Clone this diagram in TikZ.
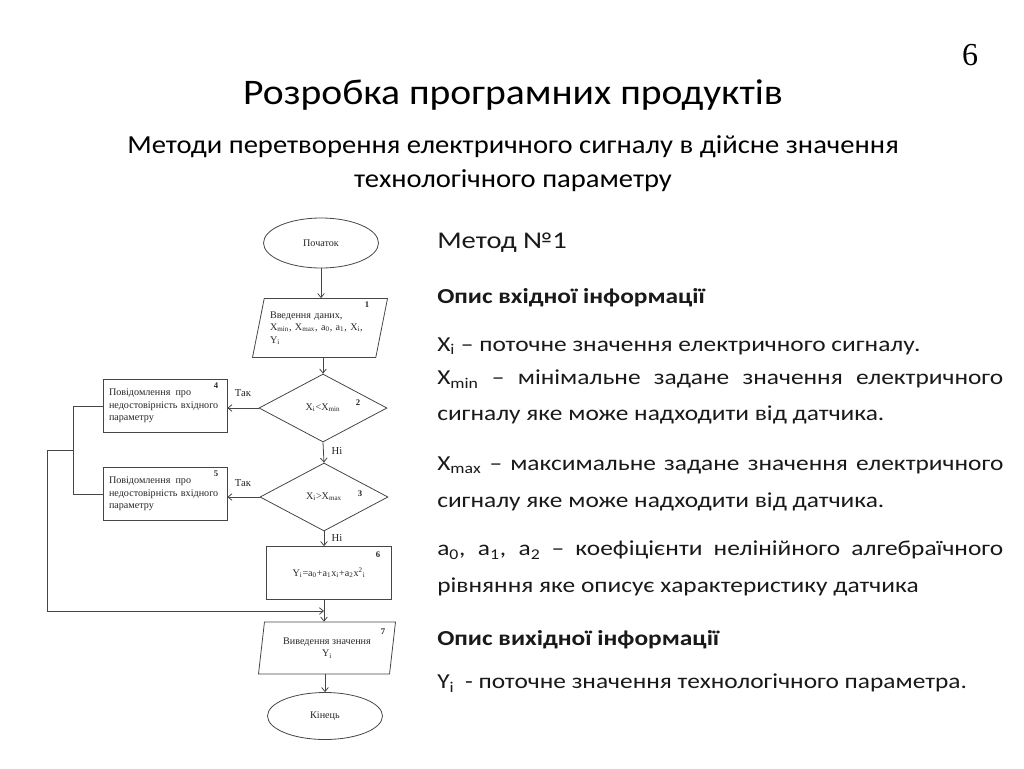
\documentclass[tikz,border=0pt]{standalone}
\usepackage{fontspec}
\setmainfont[FakeStretch=1.19]{Carlito}
\newfontfamily\titlefont[FakeStretch=1.1]{Carlito}
\newfontfamily\flowfont{Liberation Serif}
\usetikzlibrary{shapes.geometric,arrows.meta}
\definecolor{flowgray}{RGB}{70,70,70}
\def\pxu{0.75pt}

\tikzset{
  blk/.style={draw=flowgray, line width=0.6pt, inner sep=2pt, text=black!85,
    font=\flowfont\fontsize{7.6}{9.4}\selectfont},
  term/.style={blk, ellipse, minimum width=115*\pxu, minimum height=50*\pxu},
  io/.style={blk, trapezium, trapezium stretches body, inner xsep=0pt},
  dec/.style={blk, diamond, inner sep=0pt},
  proc/.style={blk, rectangle},
  num/.style={font=\flowfont\bfseries\fontsize{6.5}{7}\selectfont, text=black!85, inner sep=0pt},
  lbl/.style={font=\flowfont\fontsize{8}{9}\selectfont, text=black!85, inner sep=0pt},
  line/.style={draw=flowgray, line width=0.6pt},
  arr/.style={line, -{Straight Barb[length=3pt,width=5pt]}},
  body/.style={anchor=west, inner sep=0pt, text=black!90, font=\fontsize{16}{19}\selectfont},
  bhead/.style={body, font=\bfseries\fontsize{16}{19}\selectfont}
}

\begin{document}
\begin{tikzpicture}[x=0.75pt,y=-0.75pt]
\useasboundingbox (0,0) rectangle (1024,768);

% titles
\node[font=\flowfont\fontsize{24}{26}\selectfont, inner sep=0pt] (pg) at (970,55) {6};
\node[font=\titlefont\fontsize{27}{30}\selectfont, inner sep=0pt] (title) at (513,95) {Розробка програмних продуктів};
\node[font=\titlefont\fontsize{19.5}{25.5}\selectfont, align=center, inner sep=0pt] (subtitle) at (513,164)
  {Методи перетворення електричного сигналу в дійсне значення\\технологічного параметру};

% flowchart blocks
\node[term] (start) at (321,243) {Початок};
\node[io, trapezium left angle=73, trapezium right angle=107, minimum width=135*\pxu,
  minimum height=59*\pxu, text width=100*\pxu, align=left] (inp) at (320,328)
  {Введення даних,\\X\textsubscript{min}, X\textsubscript{max}, a\textsubscript{0}, a\textsubscript{1}, X\textsubscript{i},\\Y\textsubscript{i}};
\node[dec, minimum width=128*\pxu, minimum height=68*\pxu] (cmin) at (323,408)
  {X\textsubscript{i}<X\textsubscript{min}};
\node[dec, minimum width=128*\pxu, minimum height=68*\pxu] (cmax) at (324,497)
  {X\textsubscript{i}>X\textsubscript{max}};
\node[proc, minimum width=124*\pxu, minimum height=53*\pxu, text width=112*\pxu, align=left] (msg1) at (165,406)
  {Повідомлення\enspace про\\недостовірність вхідного\\параметру};
\node[proc, minimum width=124*\pxu, minimum height=53*\pxu, text width=112*\pxu, align=left] (msg2) at (165,494)
  {Повідомлення\enspace про\\недостовірність вхідного\\параметру};
\node[proc, minimum width=125*\pxu, minimum height=53*\pxu] (calc) at (329,573)
  {Y\textsubscript{i}=a\textsubscript{0}+a\textsubscript{1}x\textsubscript{i}+a\textsubscript{2}x\textsuperscript{2}\textsubscript{i}};
\node[io, trapezium left angle=77, trapezium right angle=103, minimum width=137*\pxu,
  minimum height=52*\pxu, align=center] (out) at (327,648) {Виведення значення\\Y\textsubscript{i}};
\node[term, minimum height=47*\pxu] (stop) at (325,716) {Кінець};

% block numbers
\node[num] (n1) at (367,305) {1};
\node[num] (n2) at (358,403) {2};
\node[num] (n3) at (360,494) {3};
\node[num] (n4) at (216,386) {4};
\node[num] (n5) at (216,474) {5};
\node[num] (n6) at (378,555) {6};
\node[num] (n7) at (383,632) {7};

% connectors
\coordinate (merge) at (324,611);
\draw[arr] (start.south) -- (start.south |- inp.north);
\draw[arr] (inp.south -| cmin) -- (cmin.north);
\draw[arr] (cmin.south) -- (cmax.north);
\draw[arr] (cmax.south) -- (cmax.south |- calc.north);
\draw[arr] (cmin.west) -- (cmin.west -| msg1.east);
\draw[arr] (cmax.west) -- (cmax.west -| msg2.east);
\draw[arr] (calc.south -| merge) -- (out.north -| merge);
\draw[arr] (out.south -| stop) -- (stop.north);

% return line
\draw[line] (msg1.west) -- ++(-29,0) coordinate (lp) |- (msg2.west);
\coordinate (jn) at (lp |- 0,450);
\draw[arr] (jn) -- ++(-26,0) |- (merge);

% branch labels
\node[lbl] (yes1) at (243,393) {Так};
\node[lbl] (yes2) at (243,483) {Так};
\node[lbl] (no1) at (337,451) {Ні};
\node[lbl] (no2) at (337,538) {Ні};

% description
\node[body, font=\fontsize{18}{22}\selectfont] (meth) at (437,243) {Метод №1};
\node[bhead] (inhd) at (437,298) {Опис вхідної інформації};
\node[body] (l1) at (437,346) {X\textsubscript{i} – поточне значення електричного сигналу.};
\node[body] (l2) at (437,379) {\makebox[424.5pt][s]{X\textsubscript{min} – мінімальне задане значення електричного}};
\node[body] (l3) at (437,415) {сигналу яке може надходити від датчика.};
\node[body] (l4) at (437,465) {\makebox[424.5pt][s]{X\textsubscript{max} – максимальне задане значення електричного}};
\node[body] (l5) at (437,502) {сигналу яке може надходити від датчика.};
\node[body] (l6) at (437,550) {\makebox[424.5pt][s]{a\textsubscript{0}, a\textsubscript{1}, a\textsubscript{2} – коефіцієнти нелінійного алгебраїчного}};
\node[body] (l7) at (437,587) {рівняння яке описує характеристику датчика};
\node[bhead] (outhd) at (437,640) {Опис вихідної інформації};
\node[body] (l8) at (437,683) {Y\textsubscript{i}\enspace- поточне значення технологічного параметра.};

\end{tikzpicture}
\end{document}
